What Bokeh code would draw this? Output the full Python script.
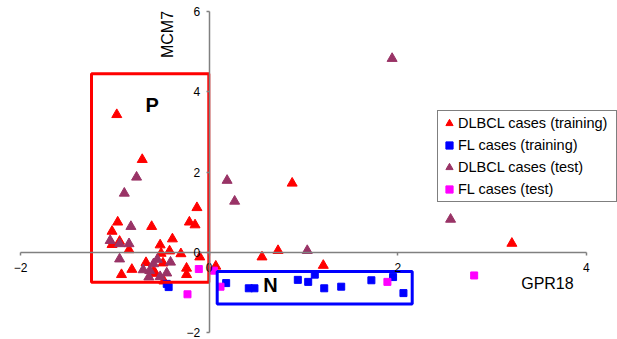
from bokeh.plotting import figure
from bokeh.models import (LinearAxis, FixedTicker, Label, Legend, LegendItem,
                          Range1d, ColumnDataSource)
from bokeh.embed import file_html
from bokeh.resources import INLINE

# ---------------- data ----------------
dlbcl_train_x = [-0.98, -0.71, 0.88, 3.21, -0.13, -0.97, -0.21, -0.15, -0.61, -1.03,
                 -0.95, -1.03, -0.85, -0.52, -0.39, -0.42, -0.51, -0.30, -0.10, -0.67,
                 -0.49, -0.82, -0.93, -0.24, -0.24, -0.59, -0.57, 0.07, 0.56, 0.73,
                 1.21, -0.48]
dlbcl_train_y = [3.43, 2.31, 1.72, 0.22, 1.11, 0.75, 0.75, 0.68, 0.64, 0.52,
                 0.27, 0.19, 0.06, 0.18, 0.33, 0.03, -0.03, -0.04, -0.12, -0.26,
                 -0.27, -0.43, -0.56, -0.40, -0.56, -0.47, -0.53, -0.35, -0.12, 0.04,
                 -0.33, -0.72]

fl_train_x = [-0.45, -0.43, 0.18, 0.42, 0.48, 0.94, 1.05, 1.12, 1.22, 1.40, 1.72, 1.95, 2.06]
fl_train_y = [-0.79, -0.87, -0.77, -0.90, -0.90, -0.69, -0.74, -0.56, -0.90, -0.86, -0.70, -0.62, -1.02]

dlbcl_test_x = [1.94, -0.77, -0.90, 0.19, 0.27, 2.56, 1.04, -0.83, -1.05, -0.95,
                -0.85, -0.95, -0.59, -0.55, -0.41, -0.70, -0.63, -0.45, -0.64, -0.52]
dlbcl_test_y = [4.83, 1.87, 1.47, 1.79, 1.27, 0.82, 0.04, 0.64, 0.29, 0.21,
                0.21, -0.17, -0.29, -0.18, -0.25, -0.44, -0.46, -0.52, -0.62, -0.61]

fl_test_x = [-0.11, -0.23, 0.05, 0.12, 1.89, 2.81]
fl_test_y = [-0.42, -1.05, -0.46, -0.86, -0.74, -0.58]

series_labels = ["DLBCL cases (training)", "FL cases (training)",
                 "DLBCL cases (test)", "FL cases (test)"]
x_ticks = [-2, 0, 2, 4]
y_ticks = [-2, 0, 2, 4, 6]
x_title = "GPR18"
y_title = "MCM7"

# selection boxes (data units)
box_p = dict(left=-1.248, right=-0.004, top=4.45, bottom=-0.75)
box_n = dict(left=0.085, right=2.153, top=-0.48, bottom=-1.29)

FONT = "Liberation Sans"

p = figure(width=617, height=339, output_backend="svg", toolbar_location=None,
           x_range=Range1d(-2.213, 4.330), y_range=Range1d(-2.177, 6.277),
           x_axis_location=None, y_axis_location=None, min_border=0)
p.grid.visible = False
p.outline_line_color = None
p.background_fill_color = "white"
p.border_fill_color = "white"


def style_axis(ax):
    ax.axis_line_color = "#808080"
    ax.axis_line_width = 1.5
    ax.major_tick_line_color = "#808080"
    ax.major_tick_line_width = 1.5
    ax.major_tick_out = 3
    ax.major_tick_in = 0
    ax.minor_tick_line_color = None
    ax.major_label_text_font = FONT
    ax.major_label_text_font_size = "12px"
    ax.major_label_text_color = "black"


xaxis = LinearAxis(fixed_location=0, ticker=FixedTicker(ticks=x_ticks), bounds=(-2, 4))
style_axis(xaxis)
xaxis.major_label_standoff = 8
p.add_layout(xaxis, "below")

yaxis = LinearAxis(fixed_location=0, ticker=FixedTicker(ticks=y_ticks), bounds=(-2, 6))
style_axis(yaxis)
yaxis.major_label_standoff = 6
p.add_layout(yaxis, "left")

r1 = p.scatter(dlbcl_train_x, dlbcl_train_y, marker="triangle", size=10,
               fill_color="#FF0000", line_color="#FF0000")
r2 = p.scatter(fl_train_x, fl_train_y, marker="square", size=7,
               fill_color="#0000FF", line_color="#0000FF")
r3 = p.scatter(dlbcl_test_x, dlbcl_test_y, marker="triangle", size=10,
               fill_color="#993366", line_color="#993366")
r4 = p.scatter(fl_test_x, fl_test_y, marker="square", size=7,
               fill_color="#FF00FF", line_color="#FF00FF")

p.quad(fill_alpha=0, line_color="#FF0000", line_width=3, **{k: [v] for k, v in box_p.items()})
p.quad(fill_alpha=0, line_color="#0000FF", line_width=3, **{k: [v] for k, v in box_n.items()})

p.add_layout(Label(x=-0.605, y=3.67, text="P", text_font=FONT, text_font_size="20px",
                   text_font_style="bold", text_align="center", text_baseline="middle",
                   text_color="black"))
p.add_layout(Label(x=0.65, y=-0.82, text="N", text_font=FONT, text_font_size="20px",
                   text_font_style="bold", text_align="center", text_baseline="middle",
                   text_color="black"))
p.add_layout(Label(x=3.587, y=-0.78, text=x_title, text_font=FONT, text_font_size="16px",
                   text_align="center", text_baseline="middle", text_color="black"))
p.add_layout(Label(x=-0.447, y=5.43, text=y_title, text_font=FONT, text_font_size="16px",
                   text_align="center", text_baseline="middle", angle=1.5708,
                   text_color="black"))

legend = Legend(items=[LegendItem(label=series_labels[i], renderers=[r])
                       for i, r in enumerate([r1, r2, r3, r4])],
                location=(437, 137), orientation="vertical",
                label_text_font=FONT, label_text_font_size="14.5px",
                label_text_color="black",
                label_height=20, glyph_height=20, glyph_width=18,
                label_standoff=0, label_width=156, spacing=2, padding=2, margin=0,
                border_line_color="black", border_line_width=1,
                background_fill_color="white", background_fill_alpha=1)
p.add_layout(legend, "center")

open("out.html", "w").write(file_html(p, INLINE))
